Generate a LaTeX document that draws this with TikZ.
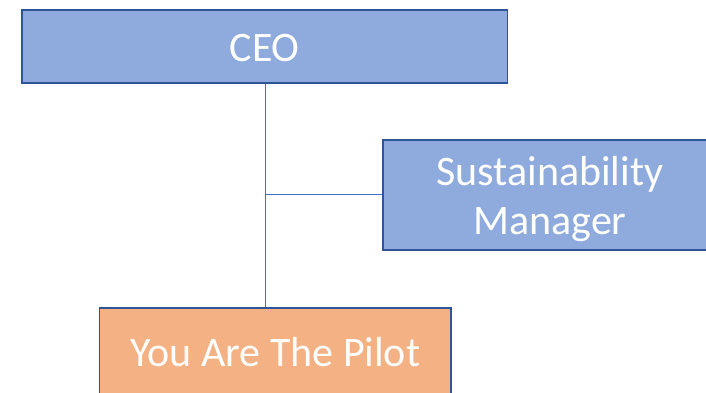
\documentclass[tikz,border=0pt]{standalone}
\usepackage{fontspec}
\setmainfont{Carlito}
\definecolor{boxblue}{HTML}{8FAADC}
\definecolor{boxedge}{HTML}{2F5597}
\definecolor{boxorange}{HTML}{F4B183}
\definecolor{linkblue}{HTML}{4472C4}
\tikzset{
  orgbox/.style={draw=boxedge, line width=1.3pt, fill=boxblue, inner sep=0pt},
  pilotbox/.style={orgbox, fill=boxorange},
  boxtext/.style={text=white, inner sep=0pt, align=center, font=\fontsize{42}{49}\selectfont},
  link/.style={draw=linkblue, line width=1pt}
}
\begin{document}
\begin{tikzpicture}[x=1pt,y=1pt]
\useasboundingbox (0,0) rectangle (706,393);
\clip (0,0) rectangle (706,393);
\node[orgbox, minimum width=485.5pt, minimum height=73pt] (ceo) at (264.75,346.5) {};
\node[boxtext, yshift=-2pt] (ceotext) at (ceo.center) {CEO};
\node[orgbox, minimum width=334pt, minimum height=110pt] (sust) at (550,198) {};
\node[boxtext, yshift=-4pt] (susttext) at (sust.center) {Sustainability\\Manager};
\node[pilotbox, minimum width=351.5pt, minimum height=88pt] (pilot) at (275.25,41) {};
\node[boxtext] (pilottext) at (pilot.center) {You Are The Pilot};
\coordinate (j) at (265.7,198);
\draw[link] (ceo.south -| j) -- (pilot.north -| j);
\draw[link] (j) -- (sust.west);
\end{tikzpicture}
\end{document}
